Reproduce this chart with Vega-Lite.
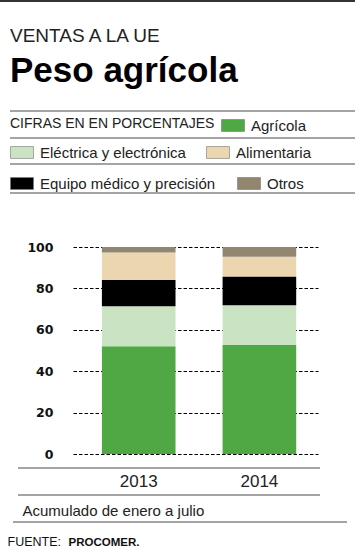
{
  "$schema": "https://vega.github.io/schema/vega-lite/v6.json",
  "width": 245,
  "height": 207,
  "autosize": {"type": "none"},
  "padding": {"left": 73, "top": 247, "right": 37, "bottom": 94},
  "background": "white",
  "config": {"view": {"stroke": null}, "font": "Liberation Sans"},
  "title": {
    "text": "VENTAS A LA UE",
    "subtitle": "Peso agrícola",
    "anchor": "start",
    "frame": "group",
    "orient": "top",
    "offset": 0,
    "dx": -63,
    "dy": 89,
    "font": "Liberation Sans",
    "fontSize": 19,
    "fontWeight": "normal",
    "color": "#222222",
    "subtitleFont": "Liberation Sans",
    "subtitleFontSize": 35,
    "subtitleFontWeight": "bold",
    "subtitleColor": "#000000",
    "subtitlePadding": 8
  },
  "data": {
    "values": [
      {"year": "2013", "category": "Agrícola", "value": 52.1},
      {"year": "2013", "category": "Eléctrica y electrónica", "value": 19.3},
      {"year": "2013", "category": "Equipo médico y precisión", "value": 12.7},
      {"year": "2013", "category": "Alimentaria", "value": 13.3},
      {"year": "2013", "category": "Otros", "value": 2.6},
      {"year": "2014", "category": "Agrícola", "value": 52.6},
      {"year": "2014", "category": "Eléctrica y electrónica", "value": 19.3},
      {"year": "2014", "category": "Equipo médico y precisión", "value": 13.7},
      {"year": "2014", "category": "Alimentaria", "value": 9.7},
      {"year": "2014", "category": "Otros", "value": 4.7}
    ]
  },
  "transform": [
    {"stack": "value", "groupby": ["year"], "as": ["y0", "y1"]}
  ],
  "layer": [
    {
      "transform": [{"filter": "datum.category === 'Agrícola'"}],
      "mark": {"type": "bar"},
      "encoding": {
        "x": {
          "field": "year", "type": "nominal",
          "scale": {"paddingInner": 0.39, "paddingOuter": 0.21, "align": 0.57},
          "axis": {
            "orient": "bottom", "domain": false, "ticks": false, "grid": false,
            "labelFont": "Liberation Sans", "labelFontSize": 17, "labelColor": "#222222",
            "labelPadding": 27, "labelBaseline": "middle", "labelAngle": 0,
            "title": "Acumulado de enero a julio", "titleX": -51, "titleY": 61,
            "titleAlign": "left", "titleBaseline": "alphabetic", "titleFont": "Liberation Sans",
            "titleFontSize": 15, "titleFontWeight": "normal", "titleColor": "#222222"
          }
        },
        "y": {
          "field": "y0", "type": "quantitative",
          "scale": {"domain": [0, 100], "nice": false},
          "axis": {
            "values": [0, 20, 40, 60, 80, 100], "domain": false, "ticks": false,
            "grid": true, "gridColor": "#000000", "gridDash": [3.5, 2], "gridWidth": 1,
            "labelFont": "DejaVu Sans", "labelFontWeight": "bold", "labelFontSize": 12.5,
            "labelColor": "#111111", "labelPadding": 20, "title": null
          }
        },
        "y2": {"field": "y1"},
        "color": {
          "field": "category", "type": "nominal",
          "scale": {"domain": ["Agrícola"], "range": ["#4fa843"]},
          "legend": {
            "orient": "none", "legendX": -63, "legendY": -133.5, "direction": "horizontal",
            "padding": 0,
            "title": "CIFRAS EN EN PORCENTAJES", "titleOrient": "left", "titleFontSize": 14,
            "titleFontWeight": "normal", "titleFont": "Liberation Sans", "titleColor": "#222222",
            "titlePadding": 6, "titleBaseline": "middle", "titleAnchor": "middle", "titleLimit": 400,
            "symbolType": "M-1,-0.52H1V0.52H-1Z", "symbolSize": 529,
            "symbolStrokeColor": "#777777", "symbolStrokeWidth": 0.6, "symbolOpacity": 1,
            "labelFont": "Liberation Sans", "labelFontSize": 15, "labelColor": "#222222",
            "labelOffset": 6, "labelLimit": 400
          }
        }
      }
    },
    {
      "transform": [{"filter": "datum.category === 'Eléctrica y electrónica' || datum.category === 'Alimentaria'"}],
      "mark": {"type": "bar"},
      "encoding": {
        "x": {
          "field": "year", "type": "nominal",
          "axis": {
            "orient": "bottom", "domain": false, "ticks": false, "grid": false, "labels": false,
            "title": "FUENTE:", "titleX": -66, "titleY": 91,
            "titleAlign": "left", "titleBaseline": "alphabetic", "titleFont": "Liberation Sans",
            "titleFontSize": 12.5, "titleFontWeight": "normal", "titleColor": "#111111"
          }
        },
        "y": {
          "field": "y0", "type": "quantitative",
          "scale": {"domain": [0, 100], "nice": false},
          "axis": {
            "values": [0, 20, 40, 60, 80, 100], "domain": false, "ticks": false,
            "grid": true, "gridColor": "#000000", "gridDash": [3.5, 2], "gridWidth": 1,
            "labelFont": "DejaVu Sans", "labelFontWeight": "bold", "labelFontSize": 12.5,
            "labelColor": "#111111", "labelPadding": 20, "title": null
          }
        },
        "y2": {"field": "y1"},
        "color": {
          "field": "category", "type": "nominal",
          "scale": {"domain": ["Eléctrica y electrónica", "Alimentaria"], "range": ["#cae4c3", "#ebd6b0"]},
          "legend": {
            "orient": "none", "legendX": -63, "legendY": -106.5, "direction": "horizontal",
            "padding": 0, "title": null, "columnPadding": 19,
            "symbolType": "M-1,-0.52H1V0.52H-1Z", "symbolSize": 529,
            "symbolStrokeColor": "#777777", "symbolStrokeWidth": 0.6, "symbolOpacity": 1,
            "labelFont": "Liberation Sans", "labelFontSize": 15, "labelColor": "#222222",
            "labelOffset": 6, "labelLimit": 400
          }
        }
      }
    },
    {
      "transform": [{"filter": "datum.category === 'Equipo médico y precisión' || datum.category === 'Otros'"}],
      "mark": {"type": "bar"},
      "encoding": {
        "x": {
          "field": "year", "type": "nominal",
          "axis": {
            "orient": "bottom", "domain": false, "ticks": false, "grid": false, "labels": false,
            "title": "PROCOMER.", "titleX": -5, "titleY": 91,
            "titleAlign": "left", "titleBaseline": "alphabetic", "titleFont": "Liberation Sans",
            "titleFontSize": 11.5, "titleFontWeight": "bold", "titleColor": "#111111"
          }
        },
        "y": {
          "field": "y0", "type": "quantitative",
          "scale": {"domain": [0, 100], "nice": false},
          "axis": {
            "values": [0, 20, 40, 60, 80, 100], "domain": false, "ticks": false,
            "grid": true, "gridColor": "#000000", "gridDash": [3.5, 2], "gridWidth": 1,
            "labelFont": "DejaVu Sans", "labelFontWeight": "bold", "labelFontSize": 12.5,
            "labelColor": "#111111", "labelPadding": 20, "title": null
          }
        },
        "y2": {"field": "y1"},
        "color": {
          "field": "category", "type": "nominal",
          "scale": {"domain": ["Equipo médico y precisión", "Otros"], "range": ["#000000", "#928670"]},
          "legend": {
            "orient": "none", "legendX": -63, "legendY": -75.5, "direction": "horizontal",
            "padding": 0, "title": null, "columnPadding": 20,
            "symbolType": "M-1,-0.52H1V0.52H-1Z", "symbolSize": 529,
            "symbolStrokeColor": "#777777", "symbolStrokeWidth": 0.6, "symbolOpacity": 1,
            "labelFont": "Liberation Sans", "labelFontSize": 15, "labelColor": "#222222",
            "labelOffset": 6, "labelLimit": 400
          }
        }
      }
    },
    {"data": {"values": [{}]}, "mark": {"type": "rule", "color": "#333333", "strokeWidth": 2}, "encoding": {"x": {"value": -73}, "x2": {"value": 282}, "y": {"value": -246}}},
    {"data": {"values": [{}]}, "mark": {"type": "rule", "color": "#4a4a4a", "strokeWidth": 1.2}, "encoding": {"x": {"value": -63}, "x2": {"value": 282}, "y": {"value": -136}}},
    {"data": {"values": [{}]}, "mark": {"type": "rule", "color": "#4a4a4a", "strokeWidth": 1.2}, "encoding": {"x": {"value": -63}, "x2": {"value": 282}, "y": {"value": -109}}},
    {"data": {"values": [{}]}, "mark": {"type": "rule", "color": "#4a4a4a", "strokeWidth": 1.2}, "encoding": {"x": {"value": -63}, "x2": {"value": 282}, "y": {"value": -83}}},
    {"data": {"values": [{}]}, "mark": {"type": "rule", "color": "#4a4a4a", "strokeWidth": 1.2}, "encoding": {"x": {"value": -63}, "x2": {"value": 282}, "y": {"value": -54}}},
    {"data": {"values": [{}]}, "mark": {"type": "rule", "color": "#4a4a4a", "strokeWidth": 1.2}, "encoding": {"x": {"value": -55}, "x2": {"value": 247}, "y": {"value": 221}}},
    {"data": {"values": [{}]}, "mark": {"type": "rule", "color": "#4a4a4a", "strokeWidth": 1.2}, "encoding": {"x": {"value": -55}, "x2": {"value": 247}, "y": {"value": 248}}},
    {"data": {"values": [{}]}, "mark": {"type": "rule", "color": "#4a4a4a", "strokeWidth": 1.2}, "encoding": {"x": {"value": -60}, "x2": {"value": 274}, "y": {"value": 275}}}
  ],
  "resolve": {
    "scale": {"color": "independent"},
    "legend": {"color": "independent"},
    "axis": {"x": "independent"}
  }
}
